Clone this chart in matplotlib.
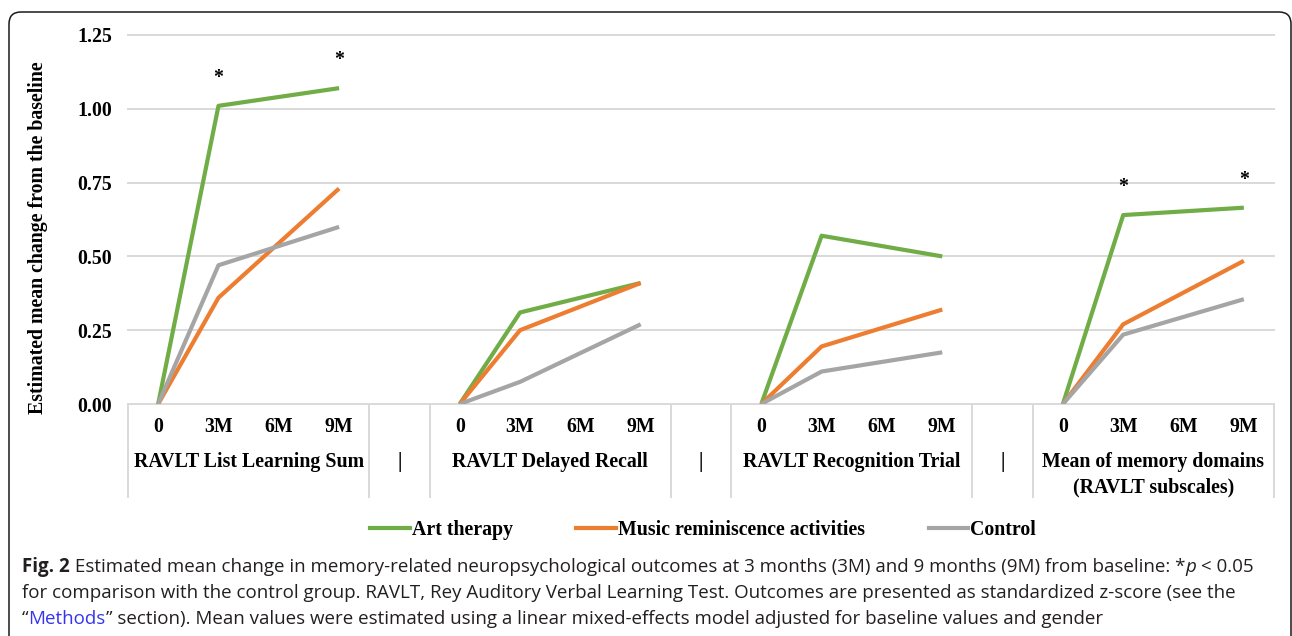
import numpy as np
import matplotlib
matplotlib.use("Agg")
import matplotlib.pyplot as plt
import matplotlib.transforms as mtransforms
from matplotlib.lines import Line2D
from matplotlib.patches import FancyBboxPatch
from matplotlib.font_manager import FontProperties

## Data (standardized z-score change from baseline)
timepoints = ["0", "3M", "6M", "9M"]
outcomes = ["RAVLT List Learning Sum", "RAVLT Delayed Recall",
            "RAVLT Recognition Trial", "Mean of memory domains\n(RAVLT subscales)"]
nan = np.nan
art_therapy = [[0, 1.01, nan, 1.07], [0, 0.31, nan, 0.41],
               [0, 0.57, nan, 0.50], [0, 0.64, nan, 0.665]]
music = [[0, 0.36, nan, 0.73], [0, 0.25, nan, 0.41],
         [0, 0.195, nan, 0.32], [0, 0.27, nan, 0.485]]
control = [[0, 0.47, nan, 0.60], [0, 0.075, nan, 0.27],
           [0, 0.11, nan, 0.175], [0, 0.235, nan, 0.355]]
series_names = ["Art therapy", "Music reminiscence activities", "Control"]
colors = ["#70AD47", "#ED7D31", "#A5A5A5"]
# art therapy vs control, p < 0.05: (outcome index, timepoint)
significant = [(0, "3M"), (0, "9M"), (3, "3M"), (3, "9M")]
yticks = [0, 0.25, 0.5, 0.75, 1.0, 1.25]

W, H = 1292, 636
plt.rcParams['font.family'] = ['Liberation Serif', 'DejaVu Serif']
FS = 14.3
bold = FontProperties(family=['Liberation Serif', 'DejaVu Serif'], weight='bold', size=FS)

def fx(px):
  return px / W

def fy(py):
  return 1 - py / H

fig = plt.figure(figsize=(W / 100, H / 100), dpi=100)
ax = fig.add_axes([fx(128), fy(404), fx(1274) - fx(128), fy(35) - fy(404)])

# slot layout: 4 timepoints + 1 separator slot per outcome
n_slots = len(outcomes) * 5 - 1
ax.set_xlim(-0.5, n_slots - 0.5)
ax.set_ylim(0, 1.25)
for s in ax.spines.values():
  s.set_visible(False)

ax.set_yticks(yticks)
ax.set_yticklabels([f"{v:.2f}" for v in yticks], fontproperties=bold)
ax.tick_params(axis='y', length=0, pad=11.5)
ax.set_xticks([])
ax.yaxis.grid(True, color="#D9D9D9", lw=1.4)
ax.set_axisbelow(True)
for gl in ax.get_ygridlines():
  gl.set_clip_on(False)

# lines, one segment set per outcome (6M missing -> connect 3M to 9M)
for values, color in zip([art_therapy, music, control], colors):
  for g, row in enumerate(values):
    xs = [g * 5 + t for t, v in enumerate(row) if not np.isnan(v)]
    ys = [v for v in row if not np.isnan(v)]
    ax.plot(xs, ys, color=color, lw=3.0, solid_joinstyle='round',
            solid_capstyle='butt', zorder=3)

# significance stars
for g, tp in significant:
  t = timepoints.index(tp)
  ax.annotate("*", (g * 5 + t, art_therapy[g][t]), xytext=(0, 20),
              textcoords='offset points', ha='center', va='center',
              fontproperties=bold, zorder=4)

# multi-level category axis
trans = mtransforms.blended_transform_factory(ax.transData, ax.transAxes)
def ay(py):
  return (404 - py) / (404 - 35)

bounds = [-0.5]
for g in range(len(outcomes)):
  bounds.append(g * 5 + 3.5)
  if g < len(outcomes) - 1:
    bounds.append(g * 5 + 4.5)
for b in bounds:
  ax.plot([b, b], [0, ay(497)], color="#D9D9D9", lw=1.4, transform=trans,
          clip_on=False)

for g, name in enumerate(outcomes):
  for t, tp in enumerate(timepoints):
    ax.text(g * 5 + t, ay(427), tp, transform=trans, ha='center', va='center',
            fontproperties=bold)
  for i, line in enumerate(name.split("\n")):
    ax.text(g * 5 + 1.5, ay(462 + 25 * i), line, transform=trans,
            ha='center', va='center', fontproperties=bold)
  if g < len(outcomes) - 1:
    ax.text(g * 5 + 4, ay(462), "|", transform=trans, ha='center',
            va='center', fontproperties=bold)

fig.text(fx(38), fy(238), "Estimated mean change from the baseline",
         rotation=90, ha='center', va='center', fontproperties=bold)

handles = [Line2D([], [], color=c, lw=3.0) for c in colors]
fig.legend(handles, series_names, loc='center', bbox_to_anchor=(fx(703), fy(530)),
           ncol=3, frameon=False, prop=bold, handlelength=2.0,
           handletextpad=0.1, columnspacing=3.2)

# rounded frame around figure + caption
frame = FancyBboxPatch((9, -40), 1282, H - 12 + 40,
                       boxstyle="round,pad=0,rounding_size=12",
                       transform=mtransforms.IdentityTransform(),
                       facecolor='none', edgecolor='#1a1a1a', lw=1.1,
                       clip_on=False)
fig.add_artist(frame)

# caption with mixed styles
cap_family = ['Open Sans', 'DejaVu Sans']
cap_color = "#231F20"
link_color = "#3535EE"
caption = [
  [("Fig. 2", 'bold', 'normal', cap_color),
   (" Estimated mean change in memory-related neuropsychological outcomes at 3 months (3M) and 9 months (9M) from baseline: *", 'normal', 'normal', cap_color),
   ("p", 'normal', 'italic', cap_color),
   (" < 0.05", 'normal', 'normal', cap_color)],
  [("for comparison with the control group. RAVLT, Rey Auditory Verbal Learning Test. Outcomes are presented as standardized z-score (see the", 'normal', 'normal', cap_color)],
  [("\u201c", 'normal', 'normal', cap_color),
   ("Methods", 'normal', 'normal', link_color),
   ("\u201d section). Mean values were estimated using a linear mixed-effects model adjusted for baseline values and gender", 'normal', 'normal', cap_color)],
]

renderer = fig.canvas.get_renderer()

def advance(s, prop):
  w1 = renderer.get_text_width_height_descent(s + "|", prop, False)[0]
  w2 = renderer.get_text_width_height_descent("|", prop, False)[0]
  return w1 - w2

def run_props(weight, style, size):
  return FontProperties(family=cap_family, weight=weight, style=style, size=size)

# fit first caption line to its width in the reference
x_start, x_end = 22, 1251
ref = 12.0
w = sum(advance(t, run_props(wt, st, ref)) for t, wt, st, _ in caption[0])
cap_size = ref * (x_end - x_start) / w

for i, line in enumerate(caption):
  x = x_start
  for text, wt, st, col in line:
    prop = run_props(wt, st, cap_size)
    fig.text(fx(x), fy(572 + 26 * i), text, fontproperties=prop, color=col,
             ha='left', va='baseline')
    x += advance(text, prop)

fig.savefig("out.png", dpi=100)
